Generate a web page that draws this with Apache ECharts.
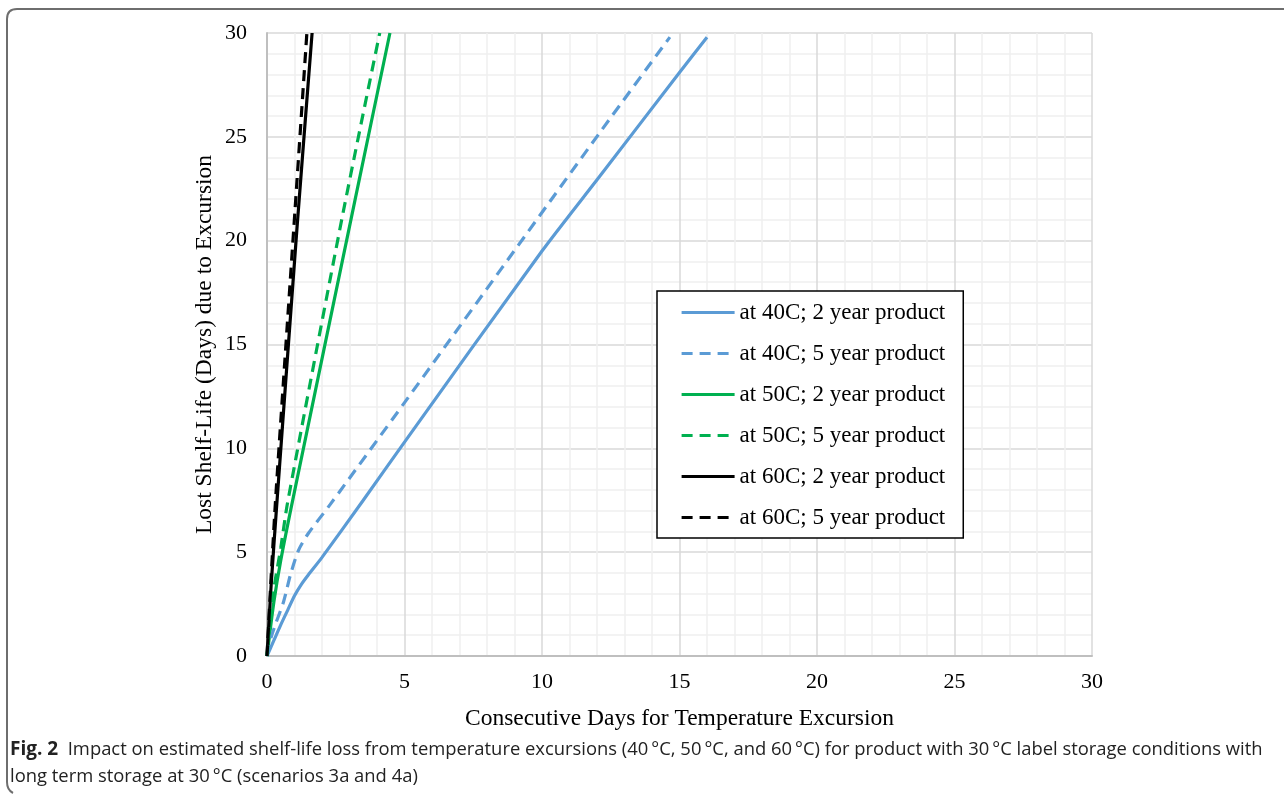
<!DOCTYPE html>
<html>
<head>
<meta charset="utf-8">
<script src="https://cdn.jsdelivr.net/npm/echarts@6/dist/echarts.min.js"></script>
<style>
  html, body { margin: 0; padding: 0; background: #fff; }
  #chart { width: 1284px; height: 795px; }
</style>
</head>
<body>
<div id="chart"></div>
<script>
// series: [days, lost shelf-life days]
const at40c2yr = [[0, 0], [0.25, 0.75], [0.5, 1.5], [0.75, 2.2], [1, 2.9], [1.25, 3.45], [1.5, 3.9], [2, 4.75], [3.5, 7.5], [5, 10.3], [10, 19.5], [12.1, 23.1], [15, 28.1], [16, 29.8]]
const at40c5yr = [[0, 0], [0.15, 0.9], [0.3, 1.5], [0.6, 2.6], [0.85, 3.9], [1.15, 5.1], [1.5, 5.9], [2.3, 7.3], [5, 12.2], [12.1, 25.2], [14.65, 29.8]]
const at50c2yr = [[0, 0], [0.25, 2.6], [0.5, 4.6], [0.95, 7.6], [3.2, 21.95], [4.47, 30]]
const at50c5yr = [[0, 0], [0.2, 2.8], [0.5, 5.2], [0.75, 7.4], [2.76, 21.3], [4.1, 30]]
const at60c2yr = [[0, 0], [0.15, 3.4], [0.35, 7.2], [1.09, 20.6], [1.64, 30]]
const at60c5yr = [[0, 0], [0.15, 3.8], [0.33, 7.9], [1.02, 21.5], [1.45, 30]]

const seriesNames = [
  'at 40C; 2 year product', 'at 40C; 5 year product',
  'at 50C; 2 year product', 'at 50C; 5 year product',
  'at 60C; 2 year product', 'at 60C; 5 year product'
]
const xTicks = [0, 5, 10, 15, 20, 25, 30]
const yTicks = [0, 5, 10, 15, 20, 25, 30]

const serif = '"Liberation Serif", "Times New Roman", serif'
const capFont = '"Open Sans", sans-serif'
const dash = [11, 7]
const frameStyle = { fill: null, stroke: '#6e6e6e', lineWidth: 2 }

const chart = echarts.init(document.getElementById('chart'))

function mkLine(name, data, color, dashed) {
  return {
    name: name,
    type: 'line',
    data: data,
    symbol: 'none',
    smooth: 0.25,
    lineStyle: { color: color, width: 3.2, type: dashed ? dash : 'solid' },
    itemStyle: { color: color },
    z: dashed ? 3 : 2
  }
}

const option = {
  animation: false,
  backgroundColor: '#fff',
  grid: { left: 267, right: 192, top: 33, bottom: 139, containLabel: false },
  xAxis: {
    type: 'value',
    min: xTicks[0], max: xTicks[xTicks.length - 1], interval: 5,
    name: 'Consecutive Days for Temperature Excursion',
    nameLocation: 'middle', nameGap: 51, nameMoveOverlap: false,
    nameTextStyle: { fontFamily: serif, fontSize: 23.5, color: '#000' },
    axisLine: { show: true, lineStyle: { color: '#bfbfbf', width: 2 } },
    axisTick: { show: false },
    axisLabel: { fontFamily: serif, fontSize: 22, color: '#000', margin: 15 },
    splitLine: { show: true, lineStyle: { color: '#d9d9d9', width: 1.5 } },
    minorTick: { show: false, splitNumber: 5 },
    minorSplitLine: { show: true, lineStyle: { color: '#efefef', width: 1.5 } }
  },
  yAxis: {
    type: 'value',
    min: yTicks[0], max: yTicks[yTicks.length - 1], interval: 5,
    name: 'Lost Shelf-Life (Days) due to Excursion',
    nameLocation: 'middle', nameGap: 50, nameMoveOverlap: false,
    nameTextStyle: { fontFamily: serif, fontSize: 23.5, color: '#000' },
    axisLine: { show: true, lineStyle: { color: '#bfbfbf', width: 2 } },
    axisTick: { show: false },
    axisLabel: { fontFamily: serif, fontSize: 22, color: '#000', margin: 20 },
    splitLine: { show: true, lineStyle: { color: '#d9d9d9', width: 1.5 } },
    minorTick: { show: false, splitNumber: 5 },
    minorSplitLine: { show: true, lineStyle: { color: '#efefef', width: 1.5 } }
  },
  legend: {
    orient: 'vertical',
    left: 657, top: 291,
    data: seriesNames,
    backgroundColor: '#fff',
    borderColor: '#000', borderWidth: 1.5,
    padding: [10, 18, 9, 23],
    itemGap: 18,
    itemWidth: 53, itemHeight: 20,
    itemStyle: { opacity: 0 },
    lineStyle: { width: 3.2 },
    textStyle: { fontFamily: serif, fontSize: 23, color: '#000', lineHeight: 23 }
  },
  series: [
    mkLine(seriesNames[0], at40c2yr, '#5b9bd5', false),
    mkLine(seriesNames[1], at40c5yr, '#5b9bd5', true),
    mkLine(seriesNames[2], at50c2yr, '#00b050', false),
    mkLine(seriesNames[3], at50c5yr, '#00b050', true),
    mkLine(seriesNames[4], at60c2yr, '#000000', false),
    mkLine(seriesNames[5], at60c5yr, '#000000', true)
  ],
  graphic: [
    // page frame, rounded on the left corners
    { type: 'line', silent: true, shape: { x1: 17, y1: 9, x2: 1284, y2: 9 }, style: frameStyle },
    { type: 'line', silent: true, shape: { x1: 7, y1: 19, x2: 7, y2: 782 }, style: frameStyle },
    { type: 'bezierCurve', silent: true, shape: { x1: 7, y1: 19, cpx1: 7, cpy1: 9, x2: 17, y2: 9 }, style: frameStyle },
    { type: 'bezierCurve', silent: true, shape: { x1: 7, y1: 782, cpx1: 7, cpy1: 790, x2: 13, y2: 793 }, style: frameStyle },
    {
      type: 'text', left: 10, top: 740,
      style: {
        rich: {
          b: { fontFamily: capFont, fontWeight: 'bold', fontSize: 19, fill: '#222' },
          n: { fontFamily: capFont, fontSize: 18.4, fill: '#222' }
        },
        text: '{b|Fig. 2}{n|  Impact on estimated shelf-life loss from temperature excursions (40\u2009°C, 50\u2009°C, and 60\u2009°C) for product with 30\u2009°C label storage conditions with}'
      }
    },
    {
      type: 'text', left: 10, top: 768,
      style: {
        fontFamily: capFont, fontSize: 18.4, fill: '#222',
        text: 'long term storage at 30\u2009°C (scenarios 3a and 4a)'
      }
    }
  ]
}

chart.setOption(option)
</script>
</body>
</html>
